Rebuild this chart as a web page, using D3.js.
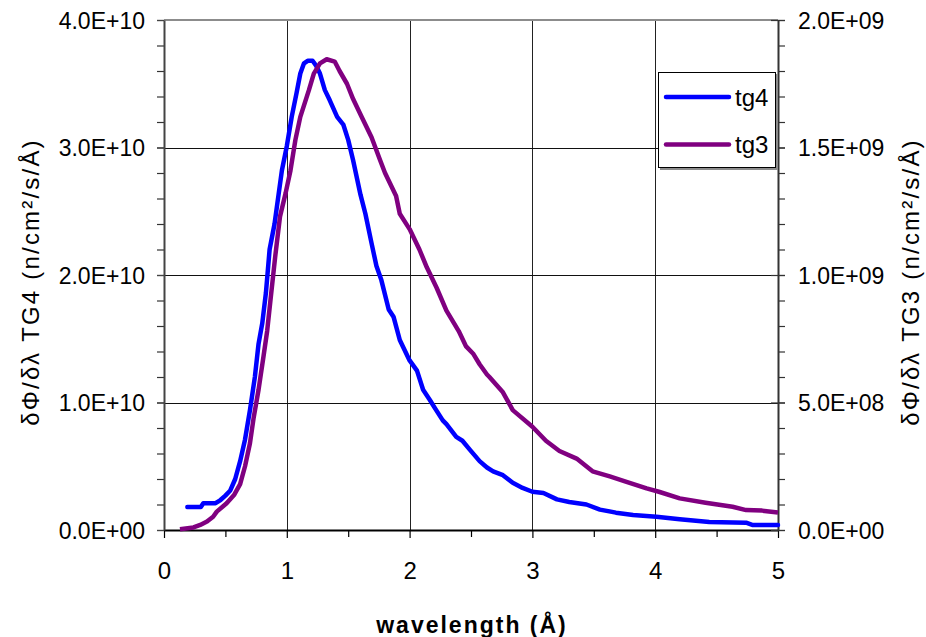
<!DOCTYPE html>
<html>
<head>
<meta charset="utf-8">
<script src="https://cdn.jsdelivr.net/npm/d3@7"></script>
<style>
  html, body { margin: 0; padding: 0; background: #fff; }
  svg { display: block; font-family: Arial, "Liberation Sans", sans-serif; }
</style>
</head>
<body>
<svg id="chart" width="926" height="637"></svg>
<script>
// Wavelength spectra of two neutron guides (tg4 on the left axis, tg3 on the right axis)
const tg4Wavelength = [0.19,0.30,0.32,0.42,0.46,0.50,0.54,0.58,0.62,0.66,0.70,0.74,0.77,0.80,0.83,0.86,0.90,0.93,0.96,1.00,1.04,1.08,1.11,1.14,1.17,1.21,1.24,1.27,1.31,1.35,1.41,1.46,1.50,1.54,1.60,1.64,1.69,1.73,1.77,1.83,1.87,1.92,2.00,2.06,2.11,2.165,2.21,2.27,2.30,2.38,2.43,2.49,2.57,2.63,2.68,2.76,2.84,2.92,3.00,3.09,3.20,3.30,3.44,3.55,3.68,3.82,4.01,4.20,4.44,4.74,4.79,5.00];
const tg4Flux = [0.18e10,0.18e10,0.21e10,0.21e10,0.235e10,0.27e10,0.31e10,0.40e10,0.54e10,0.71e10,0.94e10,1.20e10,1.46e10,1.62e10,1.86e10,2.20e10,2.40e10,2.61e10,2.82e10,3.01e10,3.24e10,3.43e10,3.58e10,3.66e10,3.68e10,3.68e10,3.64e10,3.58e10,3.45e10,3.37e10,3.24e10,3.18e10,3.06e10,2.90e10,2.63e10,2.48e10,2.25e10,2.07e10,1.96e10,1.73e10,1.67e10,1.49e10,1.33e10,1.25e10,1.10e10,1.02e10,0.95e10,0.86e10,0.83e10,0.73e10,0.70e10,0.63e10,0.54e10,0.49e10,0.46e10,0.43e10,0.37e10,0.33e10,0.30e10,0.29e10,0.24e10,0.22e10,0.20e10,0.16e10,0.136e10,0.118e10,0.104e10,0.084e10,0.063e10,0.057e10,0.04e10,0.04e10];

const tg3Wavelength = [0.13,0.24,0.295,0.35,0.40,0.43,0.51,0.57,0.62,0.66,0.70,0.73,0.77,0.81,0.84,0.87,0.905,0.945,0.99,1.03,1.07,1.11,1.18,1.22,1.27,1.325,1.39,1.43,1.49,1.54,1.61,1.69,1.76,1.80,1.89,1.92,2.00,2.08,2.14,2.22,2.30,2.40,2.46,2.52,2.57,2.63,2.65,2.76,2.84,3.00,3.11,3.22,3.36,3.49,3.63,3.76,3.93,4.03,4.20,4.41,4.63,4.74,4.87,5.00];
const tg3Flux = [0.003e9,0.01e9,0.02e9,0.033e9,0.052e9,0.072e9,0.105e9,0.137e9,0.18e9,0.25e9,0.34e9,0.44e9,0.55e9,0.68e9,0.78e9,0.915e9,1.07e9,1.23e9,1.32e9,1.41e9,1.53e9,1.62e9,1.725e9,1.79e9,1.83e9,1.846e9,1.837e9,1.80e9,1.75e9,1.69e9,1.62e9,1.54e9,1.45e9,1.40e9,1.31e9,1.24e9,1.18e9,1.10e9,1.03e9,0.95e9,0.86e9,0.78e9,0.72e9,0.69e9,0.65e9,0.61e9,0.60e9,0.54e9,0.47e9,0.405e9,0.35e9,0.31e9,0.28e9,0.23e9,0.21e9,0.19e9,0.163e9,0.15e9,0.124e9,0.107e9,0.091e9,0.078e9,0.076e9,0.069e9];

const xTicks = [0,1,2,3,4,5];
const xMinorTicks = [0.5,1.5,2.5,3.5,4.5];
const leftTicks = [0,1e10,2e10,3e10,4e10];
const rightTicks = [0,5e8,1e9,1.5e9,2e9];
const seriesNames = ["tg4","tg3"];
const seriesColors = ["#0000ff","#800080"];

const svg = d3.select("#chart");
const plot = {left: 164, right: 778, top: 20, bottom: 530};

const x = d3.scaleLinear().domain([0,5]).range([plot.left, plot.right]);
const yL = d3.scaleLinear().domain([0,4e10]).range([plot.bottom, plot.top]);
const yR = d3.scaleLinear().domain([0,2e9]).range([plot.bottom, plot.top]);

function sci(d) {
  if (d === 0) return "0.0E+00";
  const e = Math.floor(Math.log10(d) + 1e-9);
  const m = d / Math.pow(10, e);
  return m.toFixed(1) + "E+" + String(e).padStart(2, "0");
}

// grid lines
const grid = svg.append("g");
grid.selectAll("line.v").data(xTicks.slice(1, -1)).join("line")
  .attr("x1", d => Math.round(x(d)) + 0.5).attr("x2", d => Math.round(x(d)) + 0.5)
  .attr("y1", plot.top).attr("y2", plot.bottom)
  .attr("stroke", "#222").attr("stroke-width", 1);
grid.selectAll("line.h").data(leftTicks.slice(1, -1)).join("line")
  .attr("x1", plot.left).attr("x2", plot.right)
  .attr("y1", d => Math.round(yL(d)) + 0.5).attr("y2", d => Math.round(yL(d)) + 0.5)
  .attr("stroke", "#111").attr("stroke-width", 1);

// top border
svg.append("line")
  .attr("x1", plot.left).attr("x2", plot.right)
  .attr("y1", plot.top).attr("y2", plot.top)
  .attr("stroke", "#8c8c8c").attr("stroke-width", 2);

function styleAxis(g, color) {
  g.select(".domain").attr("stroke", color).attr("stroke-width", 2);
  g.selectAll(".tick line").attr("stroke", color).attr("stroke-width", 1.2);
  g.selectAll(".tick text").attr("fill", "#000").attr("font-family", "Arial, 'Liberation Sans', sans-serif");
}

// x axis
const xMinor = svg.append("g").attr("transform", `translate(0,${plot.bottom})`)
  .call(d3.axisBottom(x).tickValues(xMinorTicks).tickSize(7).tickFormat(""));
xMinor.select(".domain").remove();
xMinor.selectAll(".tick line").attr("stroke", "#000").attr("stroke-width", 1.2);
const xAxis = svg.append("g").attr("transform", `translate(0,${plot.bottom})`)
  .call(d3.axisBottom(x).tickValues(xTicks).tickSizeInner(8).tickSizeOuter(0).tickPadding(24).tickFormat(d3.format("d")));
styleAxis(xAxis, "#000");
xAxis.selectAll(".tick text").attr("font-size", 24);

// left axis
const leftMinor = d3.range(0, 4e10 + 1, 0.2e10);
const yLMinor = svg.append("g").attr("transform", `translate(${plot.left},0)`)
  .call(d3.axisLeft(yL).tickValues(leftMinor).tickSize(7).tickFormat(""));
yLMinor.select(".domain").remove();
yLMinor.selectAll(".tick line").attr("stroke", "#333").attr("stroke-width", 1.2);
const yLAxis = svg.append("g").attr("transform", `translate(${plot.left},0)`)
  .call(d3.axisLeft(yL).tickValues(leftTicks).tickSizeInner(7).tickSizeOuter(0).tickPadding(12).tickFormat(sci));
styleAxis(yLAxis, "#444");
yLAxis.selectAll(".tick text").attr("font-size", 23).attr("dy", "0.35em");

// right axis
const rightMinor = d3.range(0, 2e9 + 1, 1e8);
const yRMinor = svg.append("g").attr("transform", `translate(${plot.right},0)`)
  .call(d3.axisRight(yR).tickValues(rightMinor).tickSize(7).tickFormat(""));
yRMinor.select(".domain").remove();
yRMinor.selectAll(".tick line").attr("stroke", "#333").attr("stroke-width", 1.2);
const yRAxis = svg.append("g").attr("transform", `translate(${plot.right},0)`)
  .call(d3.axisRight(yR).tickValues(rightTicks).tickSizeInner(7).tickSizeOuter(0).tickPadding(13).tickFormat(sci));
styleAxis(yRAxis, "#333");
yRAxis.selectAll(".tick line").attr("x1", -7);
yRAxis.selectAll(".tick text").attr("font-size", 23).attr("dy", "0.35em");

// series
const lineL = d3.line().x(d => x(d[0])).y(d => yL(d[1]));
const lineR = d3.line().x(d => x(d[0])).y(d => yR(d[1]));
const tg4Data = d3.zip(tg4Wavelength, tg4Flux);
const tg3Data = d3.zip(tg3Wavelength, tg3Flux);

svg.append("path").datum(tg4Data)
  .attr("d", lineL).attr("fill", "none")
  .attr("stroke", seriesColors[0]).attr("stroke-width", 4.5)
  .attr("stroke-linejoin", "round").attr("stroke-linecap", "round");
svg.append("path").datum(tg3Data)
  .attr("d", lineR).attr("fill", "none")
  .attr("stroke", seriesColors[1]).attr("stroke-width", 4.5)
  .attr("stroke-linejoin", "round").attr("stroke-linecap", "butt");

// legend
const legend = svg.append("g");
legend.append("rect").attr("x", 660).attr("y", 74).attr("width", 118).attr("height", 96).attr("fill", "#8c8c8c");
legend.append("rect").attr("x", 658.5).attr("y", 72.5).attr("width", 117).attr("height", 95)
  .attr("fill", "#fff").attr("stroke", "#000").attr("stroke-width", 1);
const items = legend.selectAll("g.item").data(seriesNames).join("g")
  .attr("transform", (d, i) => `translate(0,${97 + i * 47.5})`);
items.append("line").attr("x1", 666).attr("x2", 729).attr("y1", 0).attr("y2", 0)
  .attr("stroke", (d, i) => seriesColors[i]).attr("stroke-width", 4.5).attr("stroke-linecap", "round");
items.append("text").attr("x", 735).attr("y", 8.5).attr("font-size", 24).attr("fill", "#000").text(d => d);

// axis titles
svg.append("text")
  .attr("transform", "translate(39,282) rotate(-90)")
  .attr("text-anchor", "middle").attr("font-size", 24).attr("letter-spacing", 2.2)
  .text("δΦ/δλ TG4 (n/cm²/s/Å)");
svg.append("text")
  .attr("transform", "translate(919,282) rotate(-90)")
  .attr("text-anchor", "middle").attr("font-size", 24).attr("letter-spacing", 2.2)
  .text("δΦ/δλ TG3 (n/cm²/s/Å)");
svg.append("text")
  .attr("x", 472).attr("y", 633)
  .attr("text-anchor", "middle").attr("font-size", 23).attr("font-weight", "bold").attr("letter-spacing", 2)
  .text("wavelength (Å)");
</script>
</body>
</html>
